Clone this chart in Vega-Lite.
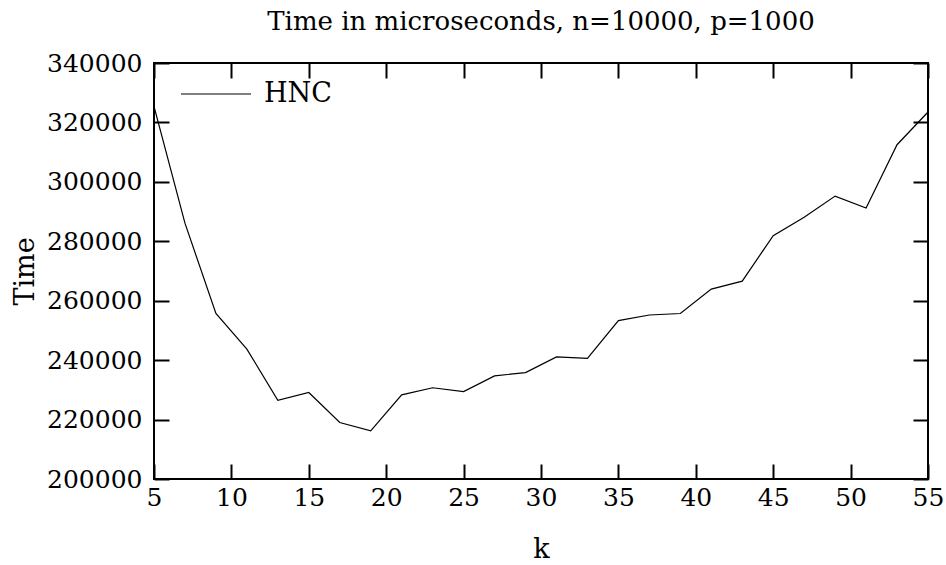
{
  "$schema": "https://vega.github.io/schema/vega-lite/v6.json",
  "autosize": "none",
  "width": 774,
  "height": 416,
  "padding": {"left": 154, "top": 63, "right": 18, "bottom": 86},
  "background": "white",
  "title": {"text": "Time in microseconds, n=10000, p=1000", "font": "DejaVu Serif", "fontSize": 26, "fontWeight": "normal", "color": "black", "offset": 16},
  "config": {
    "view": {"stroke": "black", "strokeWidth": 2},
    "axis": {"labelFont": "DejaVu Serif", "titleFont": "DejaVu Serif", "labelFontSize": 25, "titleFontSize": 27, "titleFontWeight": "normal", "labelColor": "black", "titleColor": "black", "domain": false, "grid": false, "tickColor": "black", "tickWidth": 2, "tickSize": 15, "offset": -15, "labelFlush": false}
  },
  "data": {"values": [
    {"k": 5, "time": 325400, "s": "HNC"},
    {"k": 7, "time": 286100, "s": "HNC"},
    {"k": 9, "time": 255700, "s": "HNC"},
    {"k": 11, "time": 243700, "s": "HNC"},
    {"k": 13, "time": 226500, "s": "HNC"},
    {"k": 15, "time": 229100, "s": "HNC"},
    {"k": 17, "time": 219000, "s": "HNC"},
    {"k": 19, "time": 216200, "s": "HNC"},
    {"k": 21, "time": 228300, "s": "HNC"},
    {"k": 23, "time": 230700, "s": "HNC"},
    {"k": 25, "time": 229400, "s": "HNC"},
    {"k": 27, "time": 234700, "s": "HNC"},
    {"k": 29, "time": 235800, "s": "HNC"},
    {"k": 31, "time": 241100, "s": "HNC"},
    {"k": 33, "time": 240600, "s": "HNC"},
    {"k": 35, "time": 253300, "s": "HNC"},
    {"k": 37, "time": 255200, "s": "HNC"},
    {"k": 39, "time": 255700, "s": "HNC"},
    {"k": 41, "time": 263900, "s": "HNC"},
    {"k": 43, "time": 266600, "s": "HNC"},
    {"k": 45, "time": 281900, "s": "HNC"},
    {"k": 47, "time": 288100, "s": "HNC"},
    {"k": 49, "time": 295200, "s": "HNC"},
    {"k": 51, "time": 291200, "s": "HNC"},
    {"k": 53, "time": 312500, "s": "HNC"},
    {"k": 55, "time": 323500, "s": "HNC"}
  ]},
  "layer": [
    {
      "mark": {"type": "line", "strokeWidth": 1.2, "clip": true},
      "encoding": {
        "x": {"field": "k", "type": "quantitative", "scale": {"domain": [5, 55], "nice": false, "zero": false}, "axis": {"orient": "bottom", "title": "k", "values": [5, 10, 15, 20, 25, 30, 35, 40, 45, 50, 55], "labelPadding": 6, "titlePadding": 26}},
        "y": {"field": "time", "type": "quantitative", "scale": {"domain": [200000, 340000], "nice": false, "zero": false}, "axis": {"orient": "left", "title": "Time", "values": [200000, 220000, 240000, 260000, 280000, 300000, 320000, 340000], "format": "d", "labelPadding": 12, "titlePadding": 7}},
        "color": {"field": "s", "type": "nominal", "scale": {"range": ["black"]}, "legend": {"title": null, "orient": "none", "legendX": 26, "legendY": -5, "symbolType": "stroke", "symbolSize": 4900, "symbolStrokeWidth": 1.2, "labelFont": "DejaVu Serif", "labelFontSize": 27, "labelColor": "black", "labelOffset": 12}}
      }
    },
    {
      "mark": {"type": "line", "opacity": 0},
      "encoding": {
        "x": {"field": "k", "type": "quantitative", "scale": {"domain": [5, 55], "nice": false, "zero": false}, "axis": {"orient": "top", "title": null, "labels": false, "values": [5, 10, 15, 20, 25, 30, 35, 40, 45, 50, 55]}},
        "y": {"field": "time", "type": "quantitative", "scale": {"domain": [200000, 340000], "nice": false, "zero": false}, "axis": {"orient": "right", "title": null, "labels": false, "values": [200000, 220000, 240000, 260000, 280000, 300000, 320000, 340000]}}
      }
    }
  ],
  "resolve": {"axis": {"x": "independent", "y": "independent"}}
}
